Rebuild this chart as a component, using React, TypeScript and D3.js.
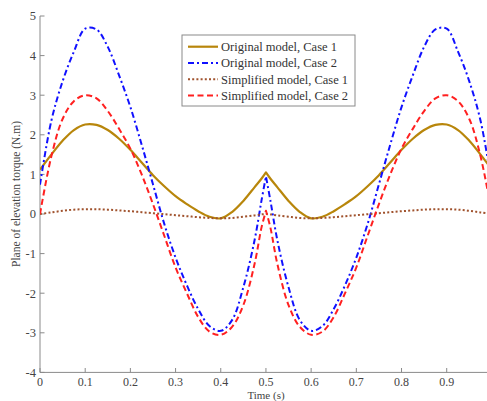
import React from "react";
import * as d3 from "d3";

const times = [0, 0.025, 0.05, 0.075, 0.1, 0.125, 0.15, 0.175, 0.2, 0.225, 0.25, 0.275, 0.3, 0.325, 0.35, 0.375, 0.4, 0.425, 0.45, 0.475, 0.49, 0.5, 0.51, 0.525, 0.55, 0.575, 0.6, 0.625, 0.65, 0.675, 0.7, 0.725, 0.75, 0.775, 0.8, 0.825, 0.85, 0.875, 0.9, 0.925, 0.95, 0.975, 1.0];

const originalCase1 = [1.12, 1.5, 1.85, 2.12, 2.26, 2.25, 2.12, 1.9, 1.62, 1.3, 0.98, 0.7, 0.45, 0.25, 0.07, -0.07, -0.11, 0.05, 0.33, 0.68, 0.89, 1.05, 0.89, 0.68, 0.33, 0.05, -0.11, -0.07, 0.07, 0.25, 0.45, 0.7, 0.98, 1.3, 1.62, 1.9, 2.12, 2.25, 2.26, 2.12, 1.85, 1.5, 1.12];

const originalCase2 = [0.74, 2.35, 3.35, 4.1, 4.68, 4.66, 4.22, 3.5, 2.7, 1.75, 0.75, -0.25, -1.1, -1.8, -2.4, -2.83, -2.95, -2.68, -1.85, -0.65, 0.33, 0.95, 0.33, -0.65, -1.85, -2.68, -2.95, -2.83, -2.4, -1.8, -1.1, -0.25, 0.75, 1.75, 2.7, 3.5, 4.22, 4.66, 4.68, 4.1, 3.35, 2.35, 0.74];

const simplifiedCase1 = [0.0, 0.04, 0.08, 0.11, 0.12, 0.12, 0.11, 0.09, 0.07, 0.045, 0.02, -0.005, -0.03, -0.055, -0.08, -0.1, -0.11, -0.1, -0.07, -0.035, -0.01, 0.0, -0.01, -0.035, -0.07, -0.1, -0.11, -0.1, -0.08, -0.055, -0.03, -0.005, 0.02, 0.045, 0.07, 0.09, 0.11, 0.12, 0.12, 0.11, 0.08, 0.04, 0.0];

const simplifiedCase2 = [0.0, 1.45, 2.4, 2.85, 3.0, 2.92, 2.6, 2.15, 1.65, 1.0, 0.25, -0.55, -1.35, -2.0, -2.6, -2.97, -3.05, -2.85, -2.3, -1.25, -0.35, 0.08, -0.35, -1.25, -2.3, -2.85, -3.05, -2.97, -2.6, -2.0, -1.35, -0.55, 0.25, 1.0, 1.65, 2.15, 2.6, 2.92, 3.0, 2.85, 2.4, 1.45, 0.0];

const xTicks = [0, 0.1, 0.2, 0.3, 0.4, 0.5, 0.6, 0.7, 0.8, 0.9];
const yTicks = [-4, -3, -2, -1, 0, 1, 2, 3, 4, 5];

const seriesNames = ["Original model, Case 1", "Original model, Case 2", "Simplified model, Case 1", "Simplified model, Case 2"];

const W = 487;
const H = 401;
const serif = "'Liberation Serif', 'DejaVu Serif', serif";

export default function App() {
  const x = d3.scaleLinear().domain([0, 1]).range([40, 491.9]);
  const y = d3.scaleLinear().domain([-4, 5]).range([372.4, 16]);

  const styles = [
    { color: "#B8860B", width: 2.2, dash: "" },
    { color: "#1010FF", width: 2, dash: "6,3,2,3" },
    { color: "#A0522D", width: 2, dash: "2,2.2" },
    { color: "#FF2020", width: 2, dash: "6,3.5" },
  ];
  const data = [originalCase1, originalCase2, simplifiedCase1, simplifiedCase2];

  const line = d3
    .line<[number, number]>()
    .x((d) => x(d[0]))
    .y((d) => y(d[1]))
    .curve(d3.curveCatmullRom.alpha(0.5));

  const mid = times.indexOf(0.5);
  const pathFor = (vals: number[]) => {
    const pts: [number, number][] = times.map((t, i) => [t, vals[i]]);
    const a = line(pts.slice(0, mid + 1)) || "";
    const b = line(pts.slice(mid)) || "";
    return a + b.replace(/^M/, "L");
  };

  const axisColor = "#8a8a8a";
  const textColor = "#444";

  return (
    <svg width={W} height={H} style={{ position: "absolute", left: 0, top: 0, background: "#fff" }}>
      <defs>
        <clipPath id="plotClip">
          <rect x={40} y={0} width={W - 40} height={373} />
        </clipPath>
      </defs>
      <rect x={0} y={0} width={W} height={H} fill="#fff" />

      {/* axes */}
      <line x1={40} x2={40} y1={16} y2={372.4} stroke={axisColor} strokeWidth={1} />
      <line x1={40} x2={W} y1={372.4} y2={372.4} stroke={axisColor} strokeWidth={1} />
      {yTicks.map((v) => (
        <g key={"y" + v}>
          <line x1={40} x2={44.5} y1={y(v)} y2={y(v)} stroke={axisColor} strokeWidth={1} />
          <text x={36} y={y(v)} dy="0.35em" textAnchor="end" fontFamily={serif} fontSize={12.5} fill={textColor}>
            {v < 0 ? "-" + Math.abs(v) : String(v)}
          </text>
        </g>
      ))}
      {xTicks.map((v) => (
        <g key={"x" + v}>
          <line x1={x(v)} x2={x(v)} y1={372.4} y2={368} stroke={axisColor} strokeWidth={1} />
          <text x={x(v)} y={386} textAnchor="middle" fontFamily={serif} fontSize={12} fill={textColor}>
            {String(v)}
          </text>
        </g>
      ))}
      <text x={266} y={398.5} textAnchor="middle" fontFamily={serif} fontSize={11} fill={textColor}>
        Time (s)
      </text>
      <text
        transform={`translate(20,194) rotate(-90)`}
        textAnchor="middle"
        fontFamily={serif}
        fontSize={11.5}
        fill={textColor}
      >
        Plane of elevation torque (N.m)
      </text>

      {/* series */}
      <g clipPath="url(#plotClip)">
        {data.map((vals, i) => (
          <path
            key={i}
            d={pathFor(vals)}
            fill="none"
            stroke={styles[i].color}
            strokeWidth={styles[i].width}
            strokeDasharray={styles[i].dash || undefined}
            strokeLinejoin="round"
          />
        ))}
      </g>

      {/* legend */}
      <g>
        <rect x={182} y={35} width={173} height={71} fill="#fff" stroke="#8a8a8a" strokeWidth={1} />
        {seriesNames.map((name, i) => {
          const cy = 46.7 + i * 16.3;
          return (
            <g key={name}>
              <line
                x1={188}
                x2={218}
                y1={cy}
                y2={cy}
                stroke={styles[i].color}
                strokeWidth={styles[i].width}
                strokeDasharray={styles[i].dash || undefined}
              />
              <text x={221} y={cy} dy="0.35em" fontFamily={serif} fontSize={12.5} fill="#333">
                {name}
              </text>
            </g>
          );
        })}
      </g>
    </svg>
  );
}
